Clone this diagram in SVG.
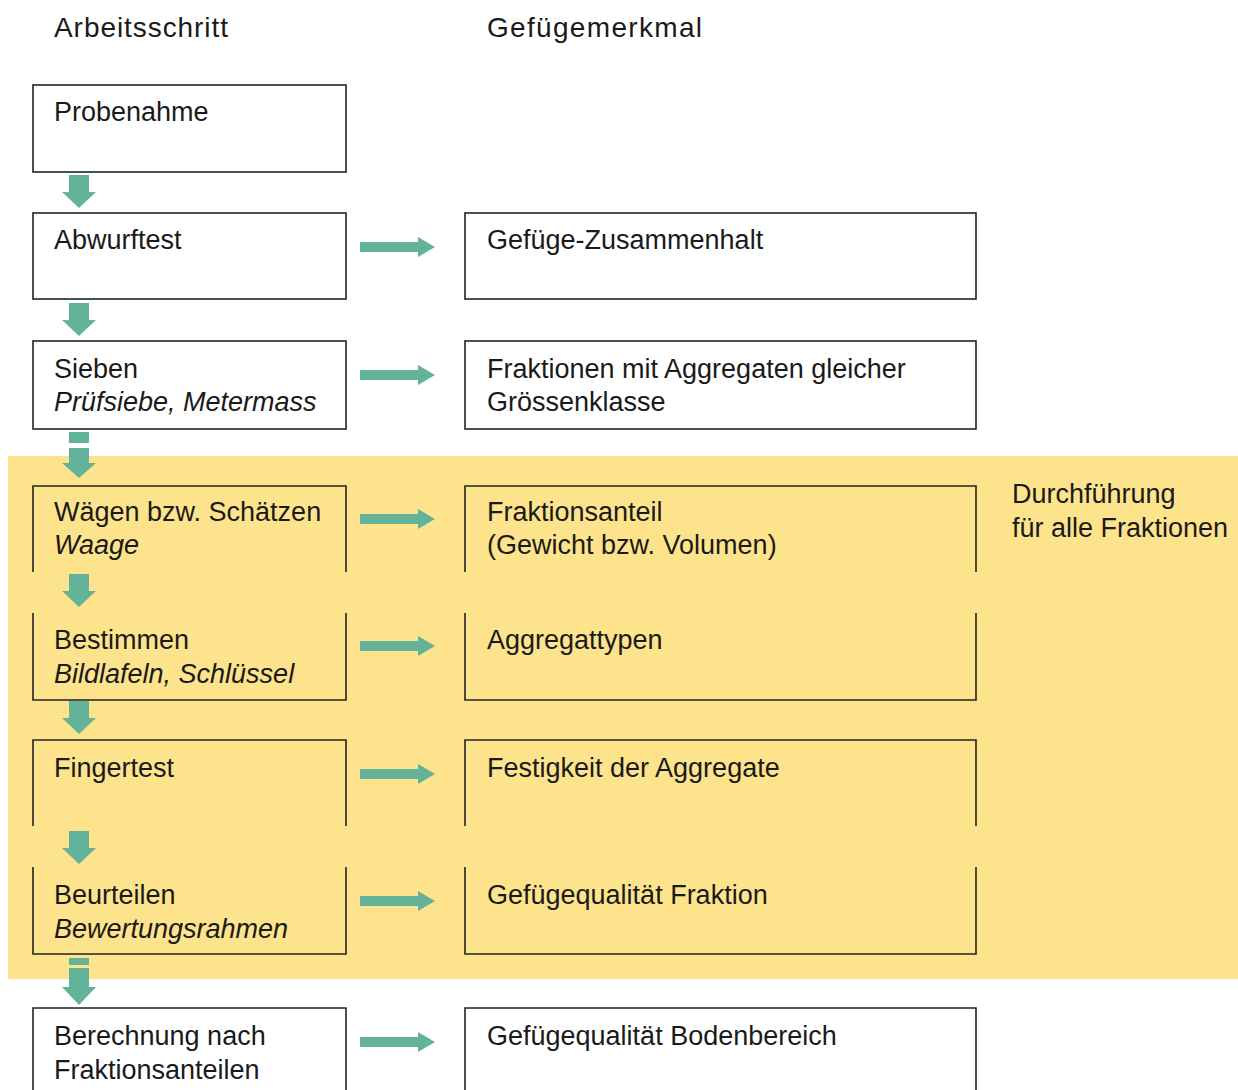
<svg xmlns="http://www.w3.org/2000/svg" width="1238" height="1090" viewBox="0 0 1238 1090">
<style>
text{font-family:"Liberation Sans","DejaVu Sans",sans-serif;font-size:27px;fill:#1a1a1a}
.i{font-style:italic}
.h{font-size:28px}
.box{fill:#fff;stroke:#222;stroke-width:1.6}
.open{fill:none;stroke:#222;stroke-width:1.6}
.arr{fill:#63B39B}
</style>
<defs>
<path id="down" d="M-10,-33 H10 V-16 H17 L0,0 L-17,-16 H-10 Z"/>
<path id="right" d="M-75,-5 H-17 V-10 L0,0 L-17,10 V5 H-75 Z"/>
</defs>
<rect x="8" y="456" width="1230" height="523" fill="#FDE48C"/>
<text class="h" x="54" y="37" textLength="174">Arbeitsschritt</text>
<text class="h" x="487" y="37" textLength="215">Gefügemerkmal</text>
<g id="n-probenahme"><rect class="box" x="33" y="85" width="313" height="87"/><text x="54" y="121">Probenahme</text></g>
<g id="n-abwurftest"><rect class="box" x="33" y="213" width="313" height="86"/><text x="54" y="249">Abwurftest</text></g>
<g id="n-zusammenhalt"><rect class="box" x="465" y="213" width="511" height="86"/><text x="487" y="249">Gefüge-Zusammenhalt</text></g>
<g id="n-sieben"><rect class="box" x="33" y="341" width="313" height="88"/><text x="54" y="378">Sieben</text><text class="i" x="54" y="411">Prüfsiebe, Metermass</text></g>
<g id="n-fraktionen"><rect class="box" x="465" y="341" width="511" height="88"/><text x="487" y="378">Fraktionen mit Aggregaten gleicher</text><text x="487" y="411">Grössenklasse</text></g>
<g id="n-waegen"><path class="open" d="M33,572 V486 H346 V572"/><text x="54" y="521">Wägen bzw. Schätzen</text><text class="i" x="54" y="554">Waage</text></g>
<g id="n-fraktionsanteil"><path class="open" d="M465,572 V486 H976 V572"/><text x="487" y="521">Fraktionsanteil</text><text x="487" y="554">(Gewicht bzw. Volumen)</text></g>
<g id="n-bestimmen"><path class="open" d="M33,613 V700 H346 V613"/><text x="54" y="649">Bestimmen</text><text class="i" x="54" y="683">Bildlafeln, Schlüssel</text></g>
<g id="n-aggregattypen"><path class="open" d="M465,613 V700 H976 V613"/><text x="487" y="649">Aggregattypen</text></g>
<g id="n-fingertest"><path class="open" d="M33,826 V740 H346 V826"/><text x="54" y="777">Fingertest</text></g>
<g id="n-festigkeit"><path class="open" d="M465,826 V740 H976 V826"/><text x="487" y="777">Festigkeit der Aggregate</text></g>
<g id="n-beurteilen"><path class="open" d="M33,867 V954 H346 V867"/><text x="54" y="904">Beurteilen</text><text class="i" x="54" y="938">Bewertungsrahmen</text></g>
<g id="n-qualfraktion"><path class="open" d="M465,867 V954 H976 V867"/><text x="487" y="904">Gefügequalität Fraktion</text></g>
<g id="n-berechnung"><path class="box" d="M33,1095 V1008 H346 V1095"/><text x="54" y="1045">Berechnung nach</text><text x="54" y="1079">Fraktionsanteilen</text></g>
<g id="n-qualboden"><path class="box" d="M465,1095 V1008 H976 V1095"/><text x="487" y="1045">Gefügequalität Bodenbereich</text></g>
<g id="n-note"><text x="1012" y="503">Durchführung</text><text x="1012" y="537">für alle Fraktionen</text></g>
<g id="connectors" class="arr">
<use href="#down" x="79" y="208"/>
<use href="#down" x="79" y="336"/>
<rect x="69" y="432" width="20" height="11"/>
<path d="M69,448 H89 V463 H96 L79,478 L62,463 H69 Z"/>
<use href="#down" x="79" y="607"/>
<use href="#down" x="79" y="734"/>
<use href="#down" x="79" y="864"/>
<rect x="69" y="958" width="20" height="7"/>
<path d="M69,968 H89 V987 H96 L79,1005 L62,987 H69 Z"/>
<use href="#right" x="435" y="247"/>
<use href="#right" x="435" y="375"/>
<use href="#right" x="435" y="519"/>
<use href="#right" x="435" y="646"/>
<use href="#right" x="435" y="774"/>
<use href="#right" x="435" y="901"/>
<use href="#right" x="435" y="1042"/>
</g>
</svg>
